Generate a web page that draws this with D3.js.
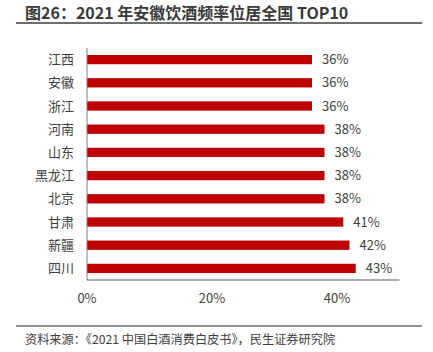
<!DOCTYPE html>
<html>
<head>
<meta charset="utf-8">
<script src="https://cdn.jsdelivr.net/npm/d3@7"></script>
<style>
  body { margin: 0; background: #fff; }
  svg text { font-family: "Noto Sans CJK SC", "Noto Sans", sans-serif; }
</style>
</head>
<body>
<svg width="433" height="352"></svg>
<script>
// data
var provinces = ["江西", "安徽", "浙江", "河南", "山东", "黑龙江", "北京", "甘肃", "新疆", "四川"];
var rates = [36, 36, 36, 38, 38, 38, 38, 41, 42, 43];
var xTicks = [0, 20, 40];

var svg = d3.select("svg");

// title + rules
svg.append("text")
    .attr("x", 25).attr("y", 19)
    .attr("font-size", 16).attr("font-weight", "bold")
    .attr("fill", "#3a3a3a")
    .text("图26：2021 年安徽饮酒频率位居全国 TOP10");
svg.append("line")
    .attr("x1", 16).attr("x2", 422).attr("y1", 23).attr("y2", 23)
    .attr("stroke", "#6e6e6e").attr("stroke-width", 2);
svg.append("line")
    .attr("x1", 16).attr("x2", 422).attr("y1", 326).attr("y2", 326)
    .attr("stroke", "#6e6e6e").attr("stroke-width", 1.5);
svg.append("text")
    .attr("x", 25).attr("y", 344)
    .attr("font-size", 12.2).attr("fill", "#404040")
    .text("资料来源：《2021 中国白酒消费白皮书》，民生证券研究院");

var x = d3.scaleLinear().domain([0, 50]).range([87, 399.5]);
var y = d3.scaleBand().domain(provinces).range([48, 280]).paddingInner(0.6).paddingOuter(0.3);

// bars
svg.append("g").selectAll("rect")
    .data(provinces)
    .enter().append("rect")
    .attr("x", x(0))
    .attr("y", function (d) { return y(d); })
    .attr("width", function (d, i) { return x(rates[i]) - x(0); })
    .attr("height", y.bandwidth())
    .attr("fill", "#c00000");

// value labels
svg.append("g").selectAll("text")
    .data(provinces)
    .enter().append("text")
    .attr("x", function (d, i) { return x(rates[i]) + 10; })
    .attr("y", function (d) { return y(d) + y.bandwidth() / 2; })
    .attr("dy", "0.35em")
    .attr("font-size", 13).attr("fill", "#404040")
    .text(function (d, i) { return rates[i] + "%"; });

// category labels
svg.append("g").selectAll("text")
    .data(provinces)
    .enter().append("text")
    .attr("x", 74)
    .attr("y", function (d) { return y(d) + y.bandwidth() / 2; })
    .attr("dy", "0.35em")
    .attr("text-anchor", "end")
    .attr("font-size", 13).attr("fill", "#404040")
    .text(function (d) { return d; });

// axes lines
svg.append("line")
    .attr("x1", x(0)).attr("x2", x(0)).attr("y1", 48).attr("y2", 280)
    .attr("stroke", "#7f7f7f").attr("stroke-width", 1);
svg.append("line")
    .attr("x1", x(0)).attr("x2", x(50)).attr("y1", 280).attr("y2", 280)
    .attr("stroke", "#595959").attr("stroke-width", 1);

// x tick labels
svg.append("g").selectAll("text")
    .data(xTicks)
    .enter().append("text")
    .attr("x", function (d) { return x(d); })
    .attr("y", 303)
    .attr("text-anchor", "middle")
    .attr("font-size", 13).attr("fill", "#404040")
    .text(function (d) { return d + "%"; });
</script>
</body>
</html>
